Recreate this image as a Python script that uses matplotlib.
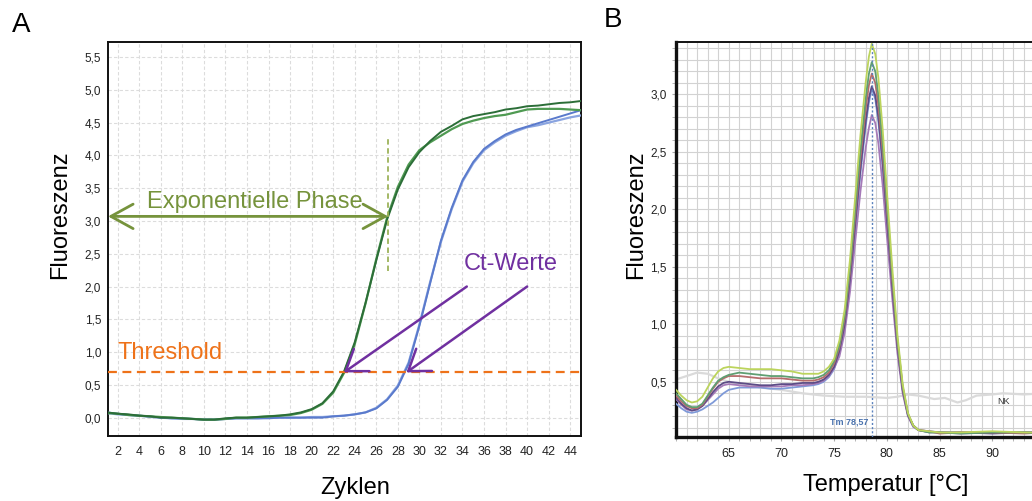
import numpy as np
import matplotlib
matplotlib.use("Agg")
import matplotlib.pyplot as plt
from matplotlib.ticker import FuncFormatter, MultipleLocator

plt.rcParams['font.family'] = ['Liberation Sans', 'DejaVu Sans']

# ---- qPCR amplification curves (panel A) ----
cycles = list(range(1, 46))
green_1 = [0.08, 0.06, 0.05, 0.03, 0.02, 0.00, 0.00, -0.01, -0.02, -0.03,
           -0.03, -0.01, 0.00, 0.00, 0.01, 0.02, 0.03, 0.05, 0.08, 0.13,
           0.22, 0.40, 0.70, 1.15, 1.75, 2.40, 3.02, 3.48, 3.82, 4.05,
           4.22, 4.36, 4.45, 4.55, 4.60, 4.63, 4.66, 4.70, 4.72, 4.75,
           4.76, 4.78, 4.80, 4.81, 4.83]
green_2 = [0.07, 0.06, 0.04, 0.03, 0.02, 0.01, 0.00, -0.01, -0.02, -0.03,
           -0.03, -0.02, 0.00, 0.00, 0.01, 0.02, 0.03, 0.04, 0.07, 0.12,
           0.21, 0.38, 0.68, 1.12, 1.74, 2.42, 3.05, 3.52, 3.86, 4.08,
           4.20, 4.30, 4.40, 4.48, 4.53, 4.57, 4.60, 4.62, 4.66, 4.70,
           4.71, 4.71, 4.71, 4.70, 4.69]
blue_1 = [0.08, 0.06, 0.04, 0.03, 0.02, 0.00, -0.01, -0.01, -0.02, -0.03,
          -0.03, -0.02, -0.01, -0.01, -0.01, -0.01, 0.00, 0.00, 0.00, 0.00,
          0.00, 0.02, 0.03, 0.05, 0.08, 0.14, 0.27, 0.47, 0.82, 1.40,
          2.05, 2.70, 3.20, 3.62, 3.90, 4.10, 4.22, 4.32, 4.39, 4.44,
          4.49, 4.54, 4.59, 4.64, 4.69]
blue_2 = [0.07, 0.05, 0.04, 0.03, 0.01, 0.00, -0.01, -0.02, -0.02, -0.03,
          -0.03, -0.02, -0.01, -0.01, -0.01, 0.00, 0.00, 0.00, 0.00, 0.01,
          0.01, 0.02, 0.03, 0.05, 0.08, 0.15, 0.28, 0.49, 0.84, 1.42,
          2.07, 2.68, 3.18, 3.60, 3.88, 4.08, 4.20, 4.30, 4.37, 4.43,
          4.46, 4.50, 4.54, 4.58, 4.61]
threshold = 0.69
ct_values = [23.0, 28.8]
exp_phase_end = 27.1

# ---- melt curves (panel B) ----
temps = [60, 60.5, 61, 61.5, 62, 62.5, 63, 63.5, 64, 64.5, 65, 66, 67, 68,
         69, 70, 71, 72, 73, 73.5, 74, 74.5, 75, 75.5, 76, 76.5, 77, 77.5,
         78, 78.3, 78.57, 78.9, 79.2, 79.6, 80, 80.5, 81, 81.5, 82, 82.5,
         83, 84, 85, 87, 90, 93, 95]
melt_yellow = [0.43, 0.38, 0.34, 0.32, 0.33, 0.37, 0.45, 0.53, 0.59, 0.62,
               0.63, 0.62, 0.61, 0.61, 0.61, 0.60, 0.59, 0.57, 0.57, 0.57,
               0.59, 0.63, 0.70, 0.86, 1.13, 1.56, 2.11, 2.65, 3.11, 3.33,
               3.44, 3.35, 3.14, 2.70, 2.16, 1.51, 0.91, 0.48, 0.23, 0.12,
               0.08, 0.07, 0.06, 0.06, 0.07, 0.06, 0.06]
melt_green = [0.40, 0.35, 0.30, 0.28, 0.28, 0.31, 0.38, 0.45, 0.51, 0.54,
              0.56, 0.58, 0.57, 0.56, 0.55, 0.55, 0.54, 0.53, 0.53, 0.54,
              0.56, 0.60, 0.68, 0.82, 1.08, 1.49, 2.01, 2.52, 2.97, 3.18,
              3.28, 3.20, 2.99, 2.58, 2.06, 1.44, 0.87, 0.46, 0.22, 0.12,
              0.08, 0.06, 0.06, 0.05, 0.06, 0.06, 0.05]
melt_red = [0.38, 0.33, 0.29, 0.27, 0.27, 0.30, 0.37, 0.44, 0.50, 0.53,
            0.55, 0.55, 0.54, 0.53, 0.53, 0.53, 0.52, 0.51, 0.51, 0.52,
            0.54, 0.58, 0.66, 0.80, 1.05, 1.45, 1.95, 2.45, 2.88, 3.08,
            3.18, 3.10, 2.90, 2.50, 2.00, 1.40, 0.85, 0.45, 0.22, 0.12,
            0.08, 0.07, 0.05, 0.06, 0.06, 0.05, 0.06]
melt_dark = [0.36, 0.31, 0.27, 0.25, 0.26, 0.29, 0.35, 0.41, 0.46, 0.49,
             0.50, 0.49, 0.48, 0.47, 0.47, 0.48, 0.48, 0.49, 0.49, 0.50,
             0.52, 0.56, 0.63, 0.77, 1.00, 1.39, 1.87, 2.36, 2.77, 2.97,
             3.07, 2.99, 2.80, 2.41, 1.92, 1.34, 0.81, 0.43, 0.21, 0.12,
             0.08, 0.06, 0.06, 0.06, 0.05, 0.06, 0.06]
melt_blue = [0.31, 0.27, 0.24, 0.23, 0.24, 0.26, 0.29, 0.32, 0.36, 0.40,
             0.43, 0.45, 0.45, 0.45, 0.44, 0.44, 0.45, 0.46, 0.47, 0.48,
             0.50, 0.54, 0.61, 0.75, 0.99, 1.37, 1.84, 2.32, 2.73, 2.93,
             3.05, 2.96, 2.76, 2.37, 1.89, 1.32, 0.80, 0.43, 0.21, 0.11,
             0.08, 0.07, 0.06, 0.06, 0.06, 0.06, 0.06]
melt_purple = [0.35, 0.30, 0.26, 0.25, 0.26, 0.29, 0.34, 0.39, 0.44, 0.47,
               0.48, 0.47, 0.46, 0.46, 0.46, 0.46, 0.47, 0.47, 0.48, 0.49,
               0.51, 0.55, 0.62, 0.72, 0.93, 1.28, 1.72, 2.16, 2.54, 2.71,
               2.82, 2.75, 2.57, 2.21, 1.77, 1.24, 0.75, 0.40, 0.20, 0.11,
               0.08, 0.07, 0.06, 0.05, 0.06, 0.06, 0.06]
nk_temps = [60, 61, 62, 63, 64, 65, 66, 67, 68, 70, 72, 74, 76, 78, 80, 81,
            82, 83, 84.5, 85.5, 86.7, 87.5, 88.5, 90, 91, 93, 95]
nk_values = [0.52, 0.55, 0.58, 0.57, 0.53, 0.50, 0.48, 0.47, 0.45, 0.43,
             0.40, 0.38, 0.37, 0.37, 0.36, 0.37, 0.39, 0.38, 0.35, 0.36,
             0.32, 0.34, 0.38, 0.39, 0.40, 0.39, 0.40]
tm = 78.57

comma = FuncFormatter(lambda v, pos: f"{v:.1f}".replace('.', ','))
W, H = 1032, 501

fig = plt.figure(figsize=(W / 100, H / 100), dpi=100)

# ---------------- panel A ----------------
axA = fig.add_axes([108 / W, 65 / H, 473 / W, 394 / H])
axA.set_xlim(1.1, 45)
axA.set_ylim(-0.28, 5.73)
axA.set_xticks(np.arange(2, 45, 2))
axA.set_yticks(np.arange(0, 5.6, 0.5))
axA.yaxis.set_major_formatter(comma)
axA.tick_params(length=0, labelsize=8.5, colors='#222222')
axA.tick_params(axis='x', pad=7, labelsize=9)
axA.tick_params(axis='y', pad=5)
axA.grid(True, color='#dcdcdc', lw=0.8, ls=(0, (3, 2)))
axA.set_axisbelow(True)
for s in axA.spines.values():
    s.set_linewidth(1.4)
    s.set_color('#111111')

axA.plot(cycles, blue_2, color='#8aa4e0', lw=1.6, zorder=3)
axA.plot(cycles, blue_1, color='#5a7acc', lw=1.4, zorder=3)
axA.plot(cycles, green_2, color='#4f9a52', lw=1.6, zorder=3)
axA.plot(cycles, green_1, color='#2c6e38', lw=1.4, zorder=3)

orange = '#ee7219'
axA.axhline(threshold, color=orange, lw=1.6, ls=(0, (4, 2.5)), zorder=4)
axA.text(2.0, 0.99, 'Threshold', color=orange, fontsize=17,
         ha='left', va='center')

olive = '#76933c'
axA.plot([exp_phase_end, exp_phase_end], [2.23, 4.26], color='#9db35a',
         lw=1.3, ls=(0, (3, 2)), zorder=4)
axA.annotate('', xy=(exp_phase_end, 3.07), xytext=(1.1, 3.07),
             arrowprops=dict(arrowstyle='<->,head_length=1.0,head_width=0.55',
                             color=olive, lw=2, shrinkA=0, shrinkB=0,
                             mutation_scale=16), zorder=5)
axA.text(14.7, 3.29, 'Exponentielle Phase', color=olive, fontsize=17,
         ha='center', va='center')

purple = '#7030a0'
axA.text(38.5, 2.35, 'Ct-Werte', color=purple, fontsize=17,
         ha='center', va='center')
for ct, start in zip(ct_values, [34.4, 40.0]):
    axA.annotate('', xy=(ct, threshold), xytext=(start, 2.0),
                 arrowprops=dict(arrowstyle='->,head_length=1.0,head_width=0.7',
                                 color=purple, lw=1.8, shrinkA=0, shrinkB=0,
                                 mutation_scale=14), zorder=6)

# ---------------- panel B ----------------
axB = fig.add_axes([676 / W, 64 / H, 369 / W, 395 / H])
axB.set_xlim(60, 95)
axB.set_ylim(0.02, 3.455)
axB.set_xticks([65, 70, 75, 80, 85, 90])
axB.set_yticks([0.5, 1.0, 1.5, 2.0, 2.5, 3.0])
axB.yaxis.set_major_formatter(comma)
axB.xaxis.set_minor_locator(MultipleLocator(1))
axB.yaxis.set_minor_locator(MultipleLocator(0.1))
axB.tick_params(which='both', length=3, color='#aaaaaa', labelsize=8.5,
                labelcolor='#222222')
axB.tick_params(axis='x', pad=5, labelsize=9)
axB.grid(True, which='both', color='#d2d2d2', lw=0.8)
axB.set_axisbelow(True)
for name, s in axB.spines.items():
    s.set_color('#111111')
    s.set_linewidth(2.4 if name in ('left', 'bottom') else 1.4)

axB.plot(nk_temps, nk_values, color='#dadada', lw=1.6, zorder=2)
melt = [(melt_blue, '#7f9ad8'), (melt_purple, '#a57ab8'),
        (melt_dark, '#5d4c86'), (melt_red, '#b56c6c'),
        (melt_green, '#5f9e72'), (melt_yellow, '#bcd45c')]
for vals, col in melt:
    axB.plot(temps, vals, color=col, lw=1.3, zorder=3)

axB.axvline(tm, color='#5b82bd', lw=1, ls=(0, (1.5, 1.5)), zorder=4)
axB.text(tm - 0.3, 0.15, 'Tm ' + f"{tm:.2f}".replace('.', ','),
         color='#4a72ad', fontsize=6.5, fontweight='bold',
         ha='right', va='center')
axB.text(91.1, 0.33, 'NK', color='#333333', fontsize=6.5,
         ha='center', va='center')

# ---------------- labels ----------------
fig.text(21 / W, 1 - 25 / H, 'A', fontsize=20, ha='center', va='center')
fig.text(613 / W, 1 - 20 / H, 'B', fontsize=20, ha='center', va='center')
fig.text(60 / W, 1 - 215 / H, 'Fluoreszenz', fontsize=17, rotation=90,
         ha='center', va='center')
fig.text(636 / W, 1 - 215 / H, 'Fluoreszenz', fontsize=17, rotation=90,
         ha='center', va='center')
fig.text(355 / W, 1 - 488 / H, 'Zyklen', fontsize=17,
         ha='center', va='center')
fig.text(886 / W, 1 - 485 / H, 'Temperatur [°C]', fontsize=17,
         ha='center', va='center')

fig.savefig('out.png', dpi=100)
